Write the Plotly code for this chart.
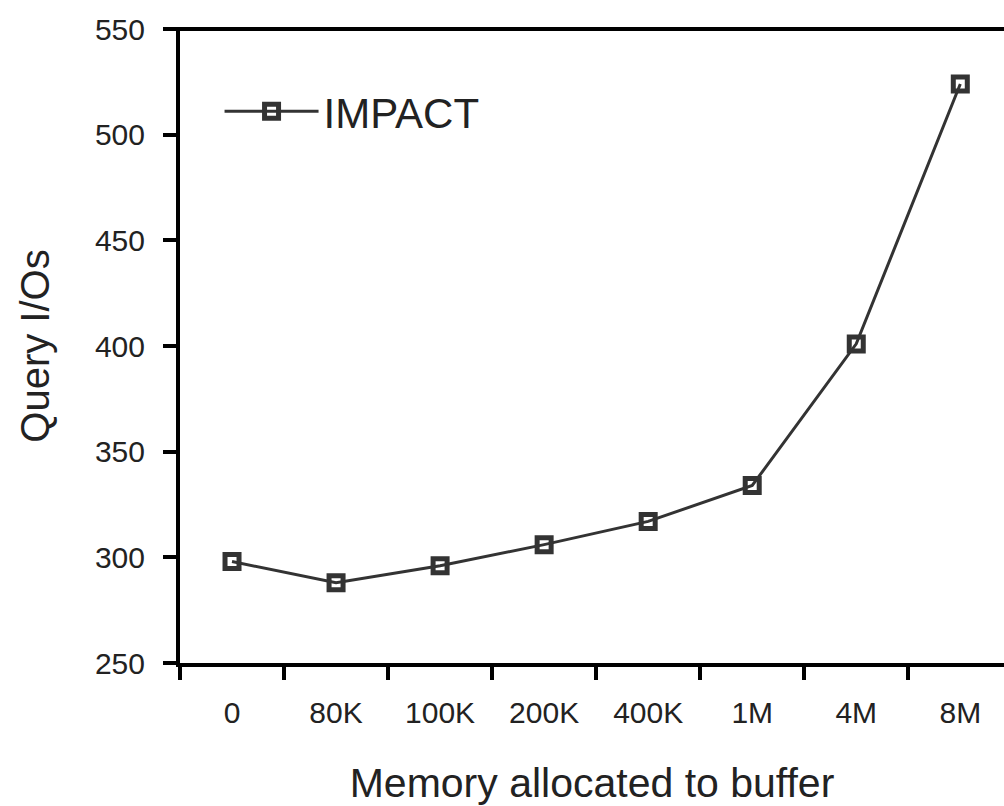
import plotly.graph_objects as go

categories = ["0", "80K", "100K", "200K", "400K", "1M", "4M", "8M"]
impact = [298, 288, 296, 306, 317, 334, 401, 524]
y_ticks = [250, 300, 350, 400, 450, 500, 550]

FONT = "Liberation Sans, Arial, Helvetica, sans-serif"
INK = "#222222"
LINE = "#333333"

fig = go.Figure()
fig.add_trace(go.Scatter(
    x=categories, y=impact, name="IMPACT", mode="lines+markers",
    line=dict(color=LINE, width=3),
    marker=dict(symbol="square-open", size=14, color=LINE, line=dict(width=5, color=LINE)),
))

fig.update_layout(
    width=1004, height=806,
    margin=dict(l=180, r=0, t=29, b=143),
    paper_bgcolor="white", plot_bgcolor="white",
    font=dict(family=FONT, color=INK),
    showlegend=True,
    legend=dict(x=0.048, y=0.87, xanchor="left", yanchor="middle",
                font=dict(size=42, family=FONT, color=INK),
                bgcolor="rgba(0,0,0,0)", itemwidth=94),
    xaxis=dict(
        type="category", range=[-0.5, 7.42], tickson="boundaries",
        showline=True, linecolor="black", linewidth=4,
        ticks="outside", ticklen=13, tickwidth=4, tickcolor="black",
        tickfont=dict(size=30, family=FONT, color=INK),
        ticklabelstandoff=20,
        showgrid=False, zeroline=False,
        title=dict(text="Memory allocated to buffer", font=dict(size=41, family=FONT, color=INK), standoff=45),
    ),
    yaxis=dict(
        range=[250, 550], tickvals=y_ticks,
        showline=True, linecolor="black", linewidth=4,
        ticks="outside", ticklen=13, tickwidth=4, tickcolor="black",
        tickfont=dict(size=30, family=FONT, color=INK),
        showgrid=False, zeroline=False,
        ticklabelstandoff=12,
        title=dict(text="Query I/Os", font=dict(size=40, family=FONT, color=INK), standoff=34),
    ),
)
fig.add_shape(type="line", xref="paper", yref="paper", x0=-0.016, x1=1, y0=1, y1=1,
              line=dict(color="black", width=4))

fig.write_html("out.html")
